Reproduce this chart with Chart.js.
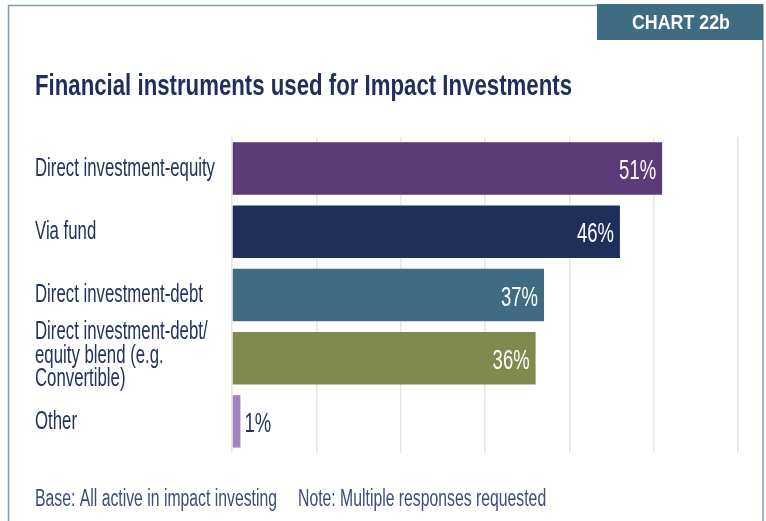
<!DOCTYPE html>
<html>
<head>
<meta charset="utf-8">
<script src="https://cdn.jsdelivr.net/npm/chart.js@4.4.0/dist/chart.umd.min.js"></script>
<style>
  html, body { margin: 0; padding: 0; background: #fff; }
  #wrap { width: 766px; height: 521px; position: relative; }
</style>
</head>
<body>
<div id="wrap"><canvas id="chart22b" width="766" height="521"></canvas></div>
<script>
var categories = [
    'Direct investment-equity',
    'Via fund',
    'Direct investment-debt',
    ['Direct investment-debt/', 'equity blend (e.g.', 'Convertible)'],
    'Other'
];
var values = [51, 46, 37, 36, 1];
var barColors = ['#5c3a78', '#1f2f5c', '#3f6c83', '#808a4f', '#9e86bd'];
var xTicks = [0, 10, 20, 30, 40, 50, 60];

var titleText = 'Financial instruments used for Impact Investments';
var badgeText = 'CHART 22b';
var baseNote = 'Base: All active in impact investing';
var multiNote = 'Note: Multiple responses requested';

var FONT = '"Liberation Sans", Arial, sans-serif';
var NAVY = '#23325f';
var CAP = 0.716;

// draw text squeezed horizontally by sx (the original uses a condensed face)
function squeezed(c, text, x, y, sx, align) {
    c.save();
    c.translate(x, y);
    c.scale(sx, 1);
    c.textAlign = align || 'left';
    c.fillText(text, 0, 0);
    c.restore();
}

// horizontal factor so that `sample` is `width` px wide in the current font
function fitFactor(c, sample, width) {
    return width / c.measureText(sample).width;
}

var framePlugin = {
    id: 'frame',
    beforeDraw: function(chart) {
        var c = chart.ctx;
        c.save();
        c.textBaseline = 'alphabetic';
        // outer frame
        c.strokeStyle = '#7f9eb0';
        c.lineWidth = 1.5;
        c.beginPath();
        c.moveTo(8.5, 521);
        c.lineTo(8.5, 5.5);
        c.lineTo(763, 5.5);
        c.lineTo(763, 521);
        c.stroke();
        // badge
        c.fillStyle = '#3f6c83';
        c.fillRect(597, 4, 166, 36);
        c.fillStyle = '#ffffff';
        c.font = 'bold 20px ' + FONT;
        var sb = fitFactor(c, badgeText, 98);
        squeezed(c, badgeText, 632, 29, sb, 'left');
        // title
        c.fillStyle = '#1f2f5c';
        c.font = 'bold 30px ' + FONT;
        var st = fitFactor(c, titleText, 537);
        squeezed(c, titleText, 35, 94.5, st, 'left');
        // footnote
        c.fillStyle = '#3d4c7a';
        c.font = '23px ' + FONT;
        var sf = fitFactor(c, baseNote, 242);
        squeezed(c, baseNote, 35, 505.5, sf, 'left');
        squeezed(c, multiNote, 298, 505.5, sf, 'left');
        c.restore();
    },
    afterDatasetsDraw: function(chart) {
        var c = chart.ctx;
        var yScale = chart.scales.y;
        var meta = chart.getDatasetMeta(0);
        c.save();
        c.textBaseline = 'alphabetic';

        // category labels
        var ls = 25;
        c.font = ls + 'px ' + FONT;
        c.fillStyle = NAVY;
        var sl = fitFactor(c, 'Direct investment-equity', 180);
        var lineGap = 23.5;
        categories.forEach(function(label, i) {
            var lines = Array.isArray(label) ? label : [label];
            var cy = yScale.getPixelForValue(i) - (Array.isArray(label) ? 3 : 0) - 1.5;
            var y0 = cy - (lines.length - 1) * lineGap / 2 + ls * CAP / 2;
            lines.forEach(function(line, k) {
                squeezed(c, line, 35, y0 + k * lineGap, sl, 'left');
            });
        });

        // value labels
        var vs = 27;
        c.font = vs + 'px ' + FONT;
        var sv = fitFactor(c, '51%', 37);
        meta.data.forEach(function(bar, i) {
            var txt = values[i] + '%';
            var by = bar.y + vs * CAP / 2 + 1;
            if (values[i] > 5) {
                c.fillStyle = '#ffffff';
                squeezed(c, txt, bar.x - 6, by, sv, 'right');
            } else {
                c.fillStyle = NAVY;
                squeezed(c, txt, bar.x + 4, by, sv, 'left');
            }
        });
        c.restore();
    }
};

new Chart(document.getElementById('chart22b').getContext('2d'), {
    type: 'bar',
    data: {
        labels: categories,
        datasets: [{
            data: values,
            backgroundColor: barColors,
            borderWidth: 0,
            barPercentage: 1,
            categoryPercentage: 0.83
        }]
    },
    options: {
        indexAxis: 'y',
        responsive: false,
        animation: false,
        layout: {
            padding: { left: 35, right: 28, top: 137, bottom: 68 }
        },
        plugins: {
            legend: { display: false },
            tooltip: { enabled: false }
        },
        scales: {
            x: {
                min: 0,
                max: 60,
                afterBuildTicks: function(axis) {
                    axis.ticks = xTicks.map(function(v) { return { value: v }; });
                },
                ticks: { display: false },
                grid: { color: '#e6e6e6', lineWidth: 1.5, drawTicks: false },
                border: { display: false },
                afterFit: function(axis) { axis.height = 0; }
            },
            y: {
                grid: { display: false },
                border: { display: false },
                ticks: { display: false, autoSkip: false },
                afterFit: function(axis) { axis.width = 197; }
            }
        }
    },
    plugins: [framePlugin]
});
</script>
</body>
</html>
